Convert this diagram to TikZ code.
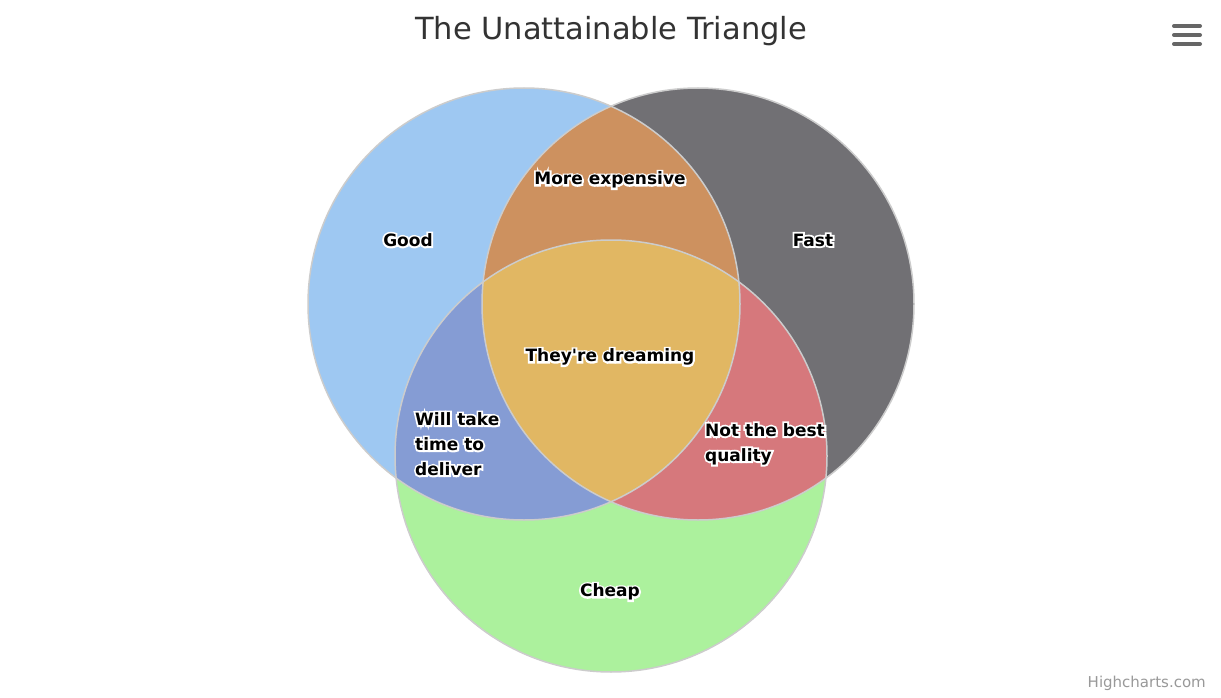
\documentclass[tikz,border=0pt]{standalone}
\usepackage{fontspec}
\setmainfont{DejaVu Sans}
\newfontfamily\halofont{DejaVu Sans Bold}[FakeBold=22]
\newfontfamily\lblfont{DejaVu Sans Bold}
\definecolor{cgood}{HTML}{9EC8F2}
\definecolor{cfast}{HTML}{717074}
\definecolor{ccheap}{HTML}{ACF19D}
\definecolor{cgf}{HTML}{CD915F}
\definecolor{cgc}{HTML}{859CD4}
\definecolor{cfc}{HTML}{D6787C}
\definecolor{cgfc}{HTML}{E1B763}
\definecolor{cborder}{HTML}{CCCCCC}
\definecolor{ctitle}{HTML}{333333}
\definecolor{cmenu}{HTML}{666666}
\definecolor{ccredit}{HTML}{999999}
\tikzset{
  vlabel/.style={inner sep=0pt, text=black, font=\lblfont\fontsize{17}{25}\selectfont},
  vhalo/.style={inner sep=0pt, text=white, font=\halofont\fontsize{17}{25}\selectfont},
  rim/.style={draw=cborder, line width=1.5pt},
  menubar/.style={draw=cmenu, line width=4pt, line cap=round},
}
\newcommand\halolabel[4]{%
  \node[vhalo,#3] at (#2) {#4};
  \node[vlabel,#3] (#1) at (#2) {#4};
}
\begin{document}
\begin{tikzpicture}[x=1pt,y=-1pt]
\useasboundingbox[fill=white] (0,0) rectangle (1221,698);
\coordinate (G) at (524,304);
\coordinate (F) at (698,304);
\coordinate (C) at (611,456);
\def\R{216pt}
% base circles
\fill[cgood] (G) circle[radius=\R];
\fill[cfast] (F) circle[radius=\R];
\fill[ccheap] (C) circle[radius=\R];
% pairwise intersections
\begin{scope}
  \clip (G) circle[radius=\R];
  \fill[cgf] (F) circle[radius=\R];
  \fill[cgc] (C) circle[radius=\R];
\end{scope}
\begin{scope}
  \clip (F) circle[radius=\R];
  \fill[cfc] (C) circle[radius=\R];
\end{scope}
\begin{scope}
  \clip (G) circle[radius=\R];
  \clip (F) circle[radius=\R];
  \fill[cgfc] (C) circle[radius=\R];
\end{scope}
% borders
\draw[rim] (G) circle[radius=\R];
\draw[rim] (F) circle[radius=\R];
\draw[rim] (C) circle[radius=\R];
% labels
\halolabel{good}{408,240}{}{Good}
\halolabel{fast}{813,240}{}{Fast}
\halolabel{cheap}{610,592}{}{Cheap}
\halolabel{gf}{610,180}{}{More expensive}
\halolabel{gfc}{610,357}{}{They{\char"27}re dreaming}
\halolabel{gc}{415,444}{anchor=west,align=left}{Will take\\time to\\deliver}
\halolabel{fc}{705,444}{anchor=west,align=left}{Not the best\\quality}
% title
\node[text=ctitle, font=\fontsize{30.5}{36}\selectfont, inner sep=0pt] (title) at (611,31) {The Unattainable Triangle};
% menu icon
\draw[menubar] (1174,26) -- (1200,26);
\draw[menubar] (1174,35) -- (1200,35);
\draw[menubar] (1174,44) -- (1200,44);
% credit
\node[text=ccredit, font=\fontsize{15}{18}\selectfont, inner sep=0pt, anchor=east] (credit) at (1206,683) {Highcharts.com};
\end{tikzpicture}
\end{document}
